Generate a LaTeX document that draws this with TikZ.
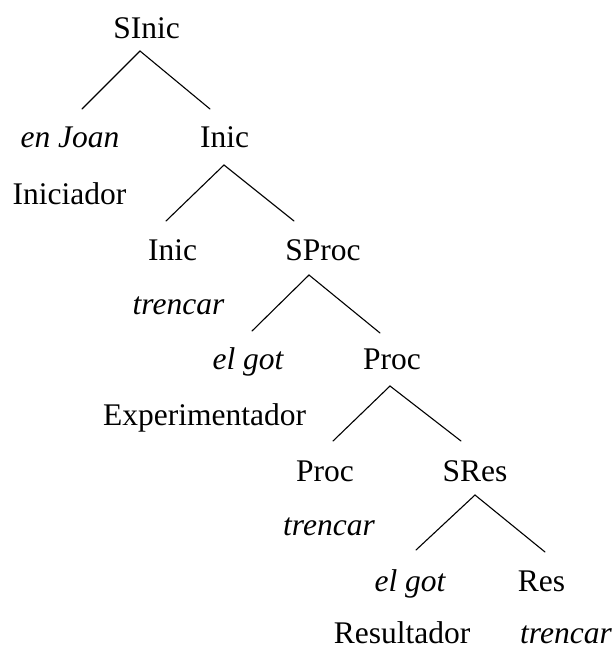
\documentclass[tikz,border=0pt]{standalone}
\usepackage{fontspec}
\setmainfont{Liberation Serif}
\begin{document}
\begin{tikzpicture}[x=1pt,y=-1pt,
  lbl/.style={anchor=base,inner sep=0pt,font=\fontsize{31.5}{36}\selectfont},
  lex/.style={lbl,font=\fontsize{31.5}{36}\selectfont\itshape},
  branch/.style={line width=1.1pt,line cap=round}]
\useasboundingbox (0,0) rectangle (614,647);

% tree labels (centre x, baseline y)
\node[lbl] (sinic)  at (146.5,39)  {SInic};
\node[lex] (joan)   at (70,148)    {en Joan};
\node[lbl] (inic)   at (224.5,148) {Inic};
\node[lbl] (inicr)  at (69.5,204)  {Iniciador};
\node[lbl] (inich)  at (172.5,260) {Inic};
\node[lbl] (sproc)  at (323,260)   {SProc};
\node[lex] (tr1)    at (178.5,314) {trencar};
\node[lex] (got1)   at (248,369)   {el got};
\node[lbl] (proc)   at (392,369)   {Proc};
\node[lbl] (exper)  at (204.5,425) {Experimentador};
\node[lbl] (proch)  at (325,481)   {Proc};
\node[lbl] (sres)   at (475,481)   {SRes};
\node[lex] (tr2)    at (329,535)   {trencar};
\node[lex] (got2)   at (410,591)   {el got};
\node[lbl] (res)    at (541.5,591) {Res};
\node[lbl] (result) at (402,643)   {Resultador};
\node[lex] (tr3)    at (566,643)   {trencar};

% branches: from below each mother to above each daughter
\draw[branch] ([shift={(12,-39)}]joan.base) -- ([shift={(-6.5,12)}]sinic.base) -- ([shift={(-14.5,-39)}]inic.base);
\draw[branch] ([shift={(-6.5,-39)}]inich.base) -- ([shift={(-0.5,17)}]inic.base) -- ([shift={(-29,-39)}]sproc.base);
\draw[branch] ([shift={(4,-38)}]got1.base) -- ([shift={(-14,15)}]sproc.base) -- ([shift={(-12,-36)}]proc.base);
\draw[branch] ([shift={(8,-40)}]proch.base) -- ([shift={(-2,17)}]proc.base) -- ([shift={(-14,-40)}]sres.base);
\draw[branch] ([shift={(6,-41)}]got2.base) -- ([shift={(0,14)}]sres.base) -- ([shift={(3.5,-39)}]res.base);
\end{tikzpicture}
\end{document}
